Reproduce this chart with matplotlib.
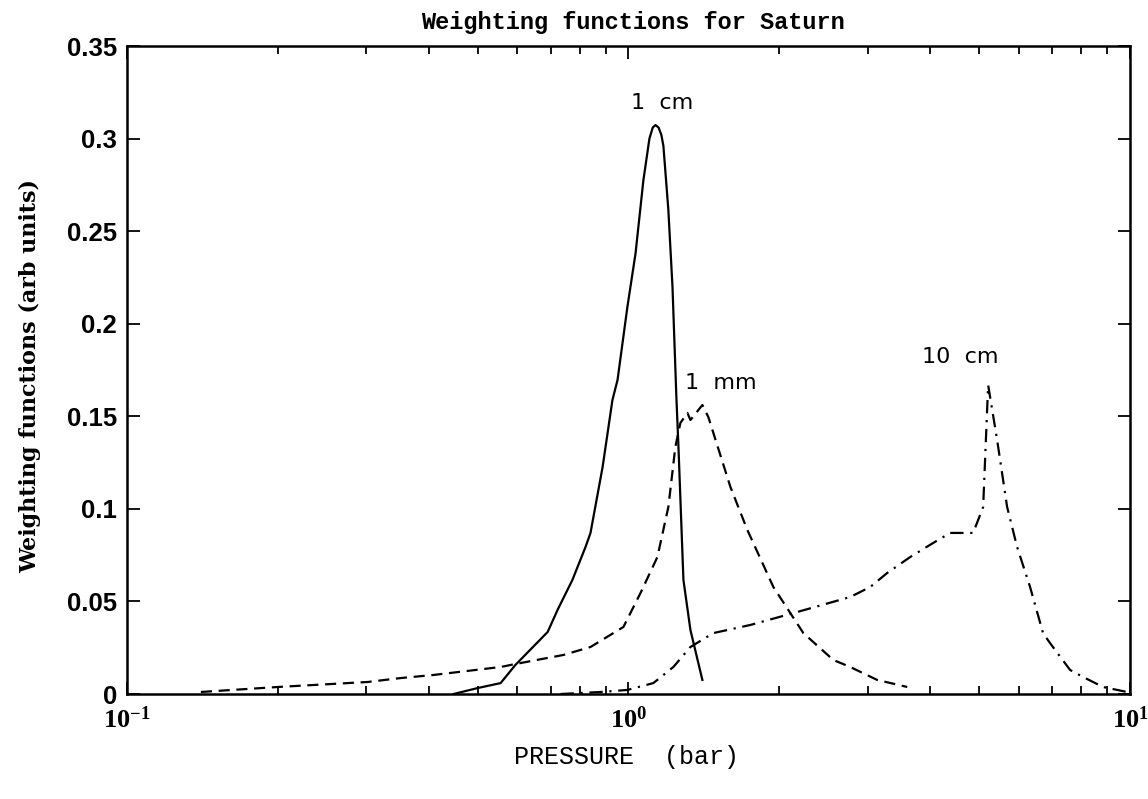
# weighting functions for Saturn at three wavelengths
import matplotlib.pyplot as plt
from matplotlib.ticker import FixedLocator, LogLocator, NullFormatter

# 1 cm curve (solid)
p_1cm = [0.448, 0.500, 0.556, 0.595, 0.690, 0.722, 0.773, 0.821, 0.840, 0.888,
         0.929, 0.951, 0.995, 1.033, 1.071, 1.101, 1.118, 1.132, 1.148, 1.163, 1.174, 1.201,
         1.224, 1.246, 1.258, 1.287, 1.329, 1.404]
w_1cm = [0.0, 0.0032, 0.0059, 0.0157, 0.0335, 0.0454, 0.0616, 0.0794, 0.087, 0.1226,
         0.1588, 0.1696, 0.209, 0.238, 0.2776, 0.300, 0.306, 0.3073, 0.306, 0.302, 0.2960, 0.2614,
         0.2198, 0.1604, 0.1334, 0.0616, 0.0346, 0.0076]

# 1 mm curve (dashed)
p_1mm = [0.1404, 0.200, 0.302, 0.351, 0.409, 0.556, 0.595, 0.742, 0.840, 0.977,
         1.057, 1.142, 1.201, 1.240, 1.269, 1.311, 1.329, 1.404, 1.443, 1.597,
         1.726, 1.945, 2.232, 2.561, 2.768, 3.133, 3.596]
w_1mm = [0.0011, 0.0038, 0.0065, 0.0086, 0.0103, 0.0146, 0.0162, 0.0211, 0.0254, 0.0362,
         0.0546, 0.074, 0.101, 0.1334, 0.1464, 0.1518, 0.148, 0.1561, 0.1496, 0.1118,
         0.0886, 0.0578, 0.0329, 0.0184, 0.0146, 0.0076, 0.0038]

# 10 cm curve (dash-dot)
p_10cm = [0.732, 0.880, 0.995, 1.121, 1.229, 1.329, 1.476, 1.750, 2.132, 2.768,
          3.034, 3.281, 3.646, 4.052, 4.379, 4.867, 5.096, 5.214, 5.434, 5.689,
          5.956, 6.321, 6.709, 6.928, 7.595, 8.062, 8.836, 9.86]
w_10cm = [0.0, 0.0011, 0.0022, 0.0059, 0.0146, 0.0254, 0.0329, 0.0373, 0.0437, 0.0524,
          0.0578, 0.0654, 0.074, 0.0816, 0.087, 0.087, 0.101, 0.1669, 0.1372, 0.101,
          0.0794, 0.0578, 0.0329, 0.0275, 0.013, 0.0092, 0.0038, 0.0011]

yticks = [0, 0.05, 0.1, 0.15, 0.2, 0.25, 0.3, 0.35]
ytick_labels = ['0', '0.05', '0.1', '0.15', '0.2', '0.25', '0.3', '0.35']
xticks = [0.1, 1, 10]
xtick_labels = ['10$^{-1}$', '10$^{0}$', '10$^{1}$']

plt.rcParams['mathtext.default'] = 'regular'

fig = plt.figure(figsize=(11.48, 7.99), dpi=100)
ax = fig.add_axes([0.1106, 0.1314, 0.8737, 0.811])

ax.plot(p_1cm, w_1cm, color='black', lw=1.6, ls='-')
ax.plot(p_1mm, w_1mm, color='black', lw=1.6, ls=(0, (5, 3)))
ax.plot(p_10cm, w_10cm, color='black', lw=1.6, ls=(0, (6, 3, 1, 3)))

ax.set_xscale('log')
ax.set_xlim(0.1, 10)
ax.set_ylim(0, 0.35)

ax.xaxis.set_major_locator(FixedLocator(xticks))
ax.set_xticklabels(xtick_labels, fontsize=19, fontweight='bold',
                   family='Liberation Serif')
ax.xaxis.set_minor_locator(LogLocator(base=10, subs=range(2, 10)))
ax.xaxis.set_minor_formatter(NullFormatter())
ax.set_yticks(yticks)
ax.set_yticklabels(ytick_labels, fontsize=18.5, fontweight='bold',
                   family='Liberation Sans')

ax.tick_params(which='both', direction='in', top=True, right=True, width=1.3)
ax.tick_params(which='major', length=9)
ax.tick_params(which='minor', length=6)
ax.tick_params(axis='x', pad=9)
ax.tick_params(axis='y', pad=7)
for s in ax.spines.values():
    s.set_linewidth(1.8)

lab_font = dict(fontsize=16, family=['Liberation Sans Narrow', 'DejaVu Sans'],
                ha='center', va='center')
ax.text(1.169, 0.319, '1  cm', **lab_font)
ax.text(1.525, 0.168, '1  mm', **lab_font)
ax.text(4.585, 0.182, '10  cm', **lab_font)

fig.text(0.551, 0.972, 'Weighting functions for Saturn', ha='center', va='center',
         fontsize=17, fontweight='bold', family='Liberation Mono')
fig.text(0.5455, 0.052, 'PRESSURE  (bar)', ha='center', va='center',
         fontsize=18, family='Liberation Mono')
fig.text(0.026, 0.53, 'Weighting functions (arb units)', ha='center', va='center',
         rotation=90, fontsize=16, fontweight='bold', family='DejaVu Serif')

fig.savefig('out.png', dpi=100)
